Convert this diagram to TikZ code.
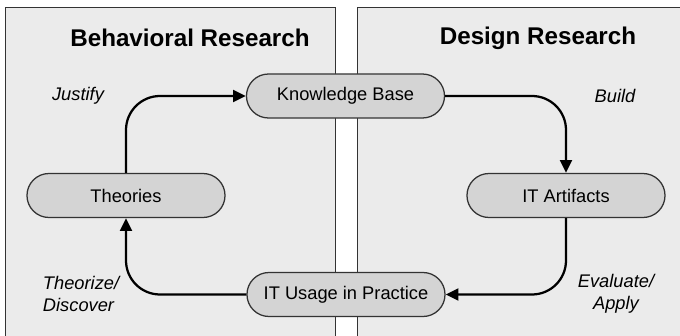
\documentclass[tikz,border=0pt]{standalone}
\usepackage{fontspec}
\setmainfont{Liberation Sans}
\usetikzlibrary{shapes.misc,arrows.meta}

\definecolor{panelgray}{HTML}{EBEBEB}
\definecolor{boxgray}{HTML}{D4D4D4}
\definecolor{edgegray}{HTML}{333333}

\begin{document}
\begin{tikzpicture}[x=0.025cm, y=0.025cm,
  phasebox/.style={rounded rectangle, draw=edgegray, line width=0.9pt, fill=boxgray,
    minimum width=4.95cm, minimum height=1.1cm, inner sep=0pt,
    font=\fontsize{13}{15}\selectfont},
  verblabel/.style={font=\fontsize{13}{16}\selectfont\itshape},
  areatitle/.style={font=\fontsize{17.2}{20}\selectfont\bfseries},
  flowarrow/.style={line width=1.6pt, rounded corners=0.85cm, -{Triangle[length=0.32cm,width=0.3cm]}}]

  \useasboundingbox (0,0) rectangle (680,336);

  % the two research areas
  \fill [panelgray] (5,-5) rectangle (335,329);
  \draw [edgegray, line width=0.6pt] (5,-5) rectangle (335,329);
  \fill [panelgray] (357,-5) rectangle (690,329);
  \draw [edgegray, line width=0.6pt] (357,-5) rectangle (690,329);

  \node [areatitle] (behav) at (190,298) {Behavioral Research};
  \node [areatitle] (design) at (538,298) {Design Research};

  \node [phasebox] (kb) at (345.5,240) {Knowledge Base};
  \node [phasebox] (theo) at (126,140.5) {Theories};
  \node [phasebox] (art) at (566,140.5) {IT Artifacts};
  \node [phasebox] (use) at (346,41.5) {IT Usage in Practice};

  \node [verblabel] (justify) at (78,240) {Justify};
  \node [verblabel] (build) at (615,240) {Build};
  \node [verblabel, anchor=west, align=left] (theorize) at (38,42) {Theorize/\\Discover};
  \node [verblabel, align=center] (evaluate) at (616,42) {Evaluate/\\Apply};

  \draw [flowarrow] (theo.north) |- (kb.west);
  \draw [flowarrow] (kb.east) -| (art.north);
  \draw [flowarrow] (art.south) |- (use.east);
  \draw [flowarrow] (use.west) -| (theo.south);
\end{tikzpicture}
\end{document}
